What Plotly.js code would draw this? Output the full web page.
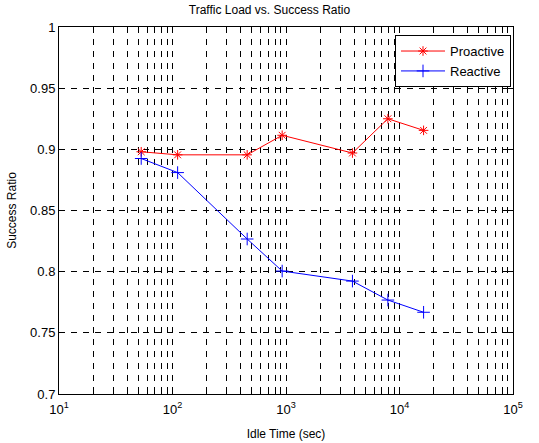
<!DOCTYPE html>
<html>
<head>
<meta charset="utf-8">
<script src="https://cdn.plot.ly/plotly-3.0.1.min.js"></script>
<style>html,body{margin:0;padding:0;background:#fff;}#chart{width:539px;height:443px;}</style>
</head>
<body>
<div id="chart"></div>
<script>
var idleTime = [53, 111, 455, 925, 3850, 7900, 16300];
var proactive = [0.898, 0.8955, 0.8955, 0.9115, 0.8970, 0.9250, 0.9155];
var reactive = [0.8925, 0.8810, 0.8267, 0.8005, 0.7923, 0.7768, 0.7668];
var xTickVals = [10, 100, 1000, 10000, 100000];
var xTickText = ['10<sup>1</sup>', '10<sup>2</sup>', '10<sup>3</sup>', '10<sup>4</sup>', '10<sup>5</sup>'];
var yTickVals = [0.7, 0.75, 0.8, 0.85, 0.9, 0.95, 1];
var yTickText = ['0.7', '0.75', '0.8', '0.85', '0.9', '0.95', '1'];

var font = 'Liberation Sans, Arial, Helvetica, sans-serif';
var traces = [
  {x: idleTime, y: proactive, name: 'Proactive', mode: 'lines+markers',
   line: {color: '#ff0000', width: 1},
   marker: {symbol: 'asterisk-open', size: 8, color: '#ff0000', line: {color: '#ff0000', width: 1}}},
  {x: idleTime, y: reactive, name: 'Reactive', mode: 'lines+markers',
   line: {color: '#0000ff', width: 1},
   marker: {symbol: 'cross-thin-open', size: 9, color: '#0000ff', line: {color: '#0000ff', width: 1}}}
];
var gridDash = '6px,6px';
var layout = {
  width: 539, height: 443,
  margin: {l: 59, r: 26, t: 27, b: 49},
  paper_bgcolor: '#fff', plot_bgcolor: '#fff',
  font: {family: font, size: 12, color: '#000'},
  title: {text: 'Traffic Load vs. Success Ratio', font: {family: font, size: 12, color: '#000'}, x: 0.5, xanchor: 'center', y: 0.978, yanchor: 'middle'},
  showlegend: true,
  legend: {x: 0.9956, xanchor: 'right', y: 0.978, yanchor: 'top', bgcolor: '#fff', bordercolor: '#000', borderwidth: 1,
           font: {family: font, size: 13, color: '#000'}, tracegroupgap: 0, itemwidth: 44},
  xaxis: {type: 'log', range: [1, 5], tickvals: xTickVals, ticktext: xTickText,
          showline: true, linecolor: '#000', linewidth: 1, mirror: 'ticks', ticks: 'inside', ticklen: 5, tickcolor: '#000',
          showgrid: true, gridcolor: '#000', griddash: gridDash, gridwidth: 1, zeroline: false,
          minor: {dtick: 'D1', showgrid: true, gridcolor: '#000', griddash: gridDash, gridwidth: 1, ticks: 'inside', ticklen: 3, tickcolor: '#000'},
          tickfont: {family: font, size: 13, color: '#000'}, ticklabelstandoff: 3,
          title: {text: 'Idle Time (sec)', font: {family: font, size: 12, color: '#000'}, standoff: 14}},
  yaxis: {range: [0.7, 1], tickvals: yTickVals, ticktext: yTickText,
          showline: true, linecolor: '#000', linewidth: 1, mirror: 'ticks', ticks: 'inside', ticklen: 5, tickcolor: '#000',
          showgrid: true, gridcolor: '#000', griddash: gridDash, gridwidth: 1, zeroline: false,
          tickfont: {family: font, size: 13, color: '#000'},
          title: {text: 'Success Ratio', font: {family: font, size: 12, color: '#000'}, standoff: 10}}
};
Plotly.newPlot('chart', traces, layout, {displayModeBar: false, staticPlot: true});
</script>
</body>
</html>
